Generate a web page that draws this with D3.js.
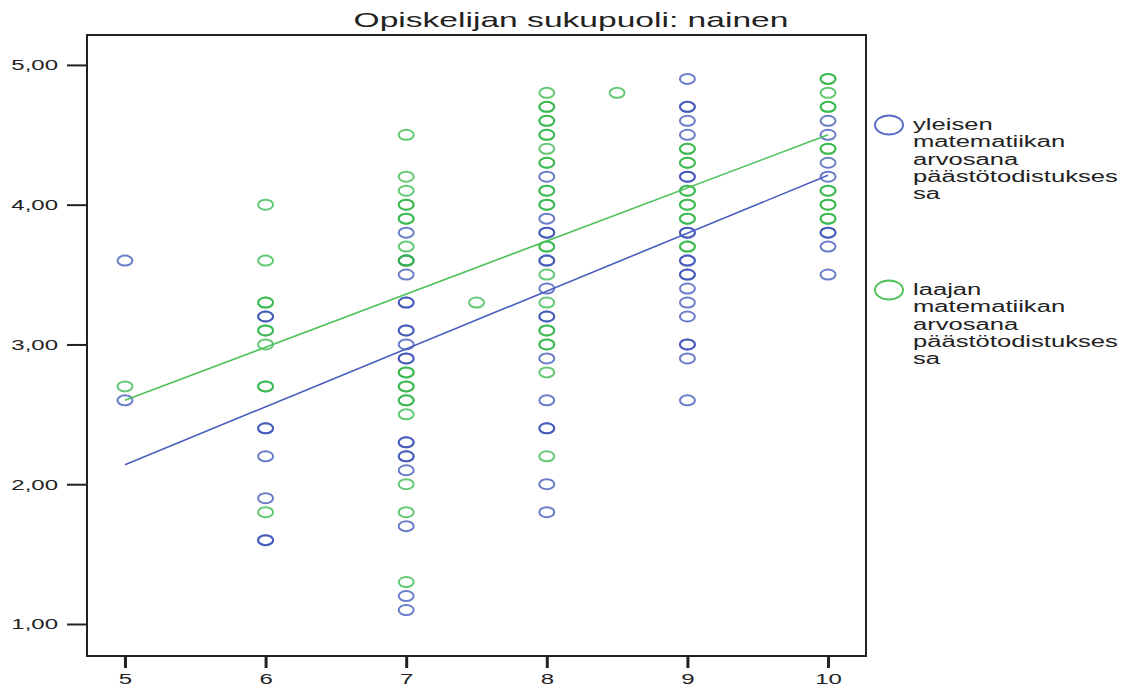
<!DOCTYPE html>
<html>
<head>
<meta charset="utf-8">
<script src="https://cdn.jsdelivr.net/npm/d3@7"></script>
<style>
  body { margin: 0; background: #fff; }
  text { font-family: "Liberation Sans", Arial, sans-serif; fill: #222; }
</style>
</head>
<body>
<div id="chart"></div>
<script>
// grade in the school leaving certificate (x) vs. result (y)
const titleText = "Opiskelijan sukupuoli: nainen";
const xTicks = [5, 6, 7, 8, 9, 10];
const yTicks = [1, 2, 3, 4, 5];

// yleisen matematiikan arvosana (blue)
const yleinenGrades = [5, 6, 7, 8, 9, 10];
const yleinenValues = [
    [3.6, 2.6],
    [3.2, 3.2, 2.4, 2.4, 2.2, 1.9, 1.6, 1.6],
    [3.8, 3.6, 3.5, 3.3, 3.3, 3.1, 3.1, 3.0, 2.9, 2.9, 2.3, 2.3, 2.2, 2.2, 2.1, 1.7, 1.2, 1.1],
    [4.2, 3.9, 3.8, 3.8, 3.6, 3.6, 3.4, 3.2, 3.2, 2.9, 2.6, 2.4, 2.4, 2.0, 1.8],
    [4.9, 4.7, 4.7, 4.6, 4.5, 4.2, 4.2, 3.8, 3.8, 3.6, 3.6, 3.5, 3.5, 3.4, 3.3, 3.2, 3.0, 3.0, 2.9, 2.6],
    [4.6, 4.5, 4.3, 4.2, 3.8, 3.8, 3.7, 3.5]
];

// laajan matematiikan arvosana (green)
const laajaGrades = [5, 6, 7, 7.5, 8, 8.5, 9, 10];
const laajaValues = [
    [2.7],
    [4.0, 3.6, 3.3, 3.3, 3.1, 3.1, 3.0, 2.7, 2.7, 1.8],
    [4.5, 4.2, 4.1, 4.0, 4.0, 3.9, 3.9, 3.7, 3.6, 3.6, 2.8, 2.8, 2.7, 2.7, 2.6, 2.6, 2.5, 2.0, 1.8, 1.3],
    [3.3],
    [4.8, 4.7, 4.7, 4.6, 4.6, 4.5, 4.5, 4.4, 4.3, 4.3, 4.1, 4.1, 4.0, 4.0, 3.7, 3.7, 3.5, 3.3, 3.1, 3.1, 3.0, 3.0, 2.8, 2.2],
    [4.8],
    [4.4, 4.4, 4.3, 4.3, 4.1, 4.1, 4.0, 4.0, 3.9, 3.9, 3.7, 3.7],
    [4.9, 4.9, 4.8, 4.7, 4.7, 4.4, 4.4, 4.1, 4.1, 4.0, 4.0, 3.9, 3.9]
];

// fit lines, value at x = 5 and x = 10
const fitX = [5, 10];
const yleinenFit = [2.14, 4.21];
const laajaFit = [2.60, 4.50];

const legendLabels = [
    ["yleisen", "matematiikan", "arvosana", "päästötodistukses", "sa"],
    ["laajan", "matematiikan", "arvosana", "päästötodistukses", "sa"]
];

(function() {
    const width = 1125, height = 691;
    const margin = {top: 35, right: 259, bottom: 35, left: 87};
    const stretch = 1.6;   // the picture is wider than it is tall
    const blue = "#3a50b5", green = "#2fb545";

    let svg = d3.select("#chart")
        .append("svg")
        .attr("width", width)
        .attr("height", height);

    let x = d3.scaleLinear()
        .domain([4.73, 10.27])
        .range([margin.left, width - margin.right]);
    let y = d3.scaleLinear()
        .domain([0.771, 5.214])
        .range([height - margin.bottom, margin.top]);

    const fi = d3.formatLocale({decimal: ",", thousands: " ", grouping: [3], currency: ["", "€"]});

    // y axis
    let yAxis = svg.append("g")
        .attr("transform", `translate(${margin.left},0)`)
        .call(d3.axisLeft(y).tickValues(yTicks).tickSize(20).tickFormat(fi.format(".2f")));
    yAxis.select(".domain").remove();
    yAxis.selectAll("line").attr("stroke", "#222").attr("stroke-width", 2);
    yAxis.selectAll("text")
        .attr("x", -29 / stretch)
        .attr("transform", `scale(${stretch},1)`)
        .style("font-size", "15px")
        .attr("fill", "#222");

    // x axis
    let xAxis = svg.append("g")
        .attr("transform", `translate(0,${height - margin.bottom})`)
        .call(d3.axisBottom(x).tickValues(xTicks).tickSize(12).tickPadding(5).tickFormat(d3.format("d")));
    xAxis.select(".domain").remove();
    xAxis.selectAll("line").attr("stroke", "#222").attr("stroke-width", 3);
    xAxis.selectAll("text")
        .attr("transform", `scale(${stretch},1)`)
        .style("font-size", "15px")
        .attr("fill", "#222");

    // frame
    svg.append("rect")
        .attr("x", margin.left)
        .attr("y", margin.top)
        .attr("width", width - margin.left - margin.right)
        .attr("height", height - margin.top - margin.bottom)
        .attr("fill", "none")
        .attr("stroke", "#222")
        .attr("stroke-width", 2);

    // title
    svg.append("text")
        .attr("transform", `translate(571, 27) scale(${stretch},1)`)
        .style("text-anchor", "middle")
        .style("font-size", "21px")
        .text(titleText);

    function flatten(grades, values) {
        let out = [];
        grades.forEach(function(g, i) {
            values[i].forEach(function(v) { out.push({x: g, y: v}); });
        });
        return out;
    }

    function drawSeries(points, color) {
        svg.append("g")
            .selectAll("ellipse")
            .data(points)
            .enter().append("ellipse")
            .attr("cx", d => x(d.x))
            .attr("cy", d => y(d.y))
            .attr("rx", 7.5)
            .attr("ry", 5)
            .attr("fill", "none")
            .attr("stroke", color)
            .attr("stroke-opacity", 0.75)
            .attr("stroke-width", 2);
    }

    drawSeries(flatten(yleinenGrades, yleinenValues), blue);
    drawSeries(flatten(laajaGrades, laajaValues), green);

    // fit lines
    let line = d3.line().x(d => x(d[0])).y(d => y(d[1]));
    svg.append("path")
        .datum(fitX.map((v, i) => [v, yleinenFit[i]]))
        .attr("fill", "none")
        .attr("stroke", "#4b5fbf")
        .attr("stroke-width", 1.6)
        .attr("d", line);
    svg.append("path")
        .datum(fitX.map((v, i) => [v, laajaFit[i]]))
        .attr("fill", "none")
        .attr("stroke", "#4cc159")
        .attr("stroke-width", 1.6)
        .attr("d", line);

    // legend
    const legendColors = ["#5a6cc6", "#4fc25c"];
    const legendTop = [125, 290];
    legendLabels.forEach(function(lines, i) {
        svg.append("ellipse")
            .attr("cx", 889)
            .attr("cy", legendTop[i])
            .attr("rx", 14)
            .attr("ry", 9.5)
            .attr("fill", "none")
            .attr("stroke", legendColors[i])
            .attr("stroke-width", 2);
        let t = svg.append("text")
            .attr("transform", `translate(913, ${legendTop[i] + 5}) scale(${stretch},1)`)
            .style("font-size", "16px");
        t.selectAll("tspan")
            .data(lines)
            .enter().append("tspan")
            .attr("x", 0)
            .attr("dy", (d, j) => j === 0 ? 0 : 17.3)
            .text(d => d);
    });
})();
</script>
</body>
</html>
